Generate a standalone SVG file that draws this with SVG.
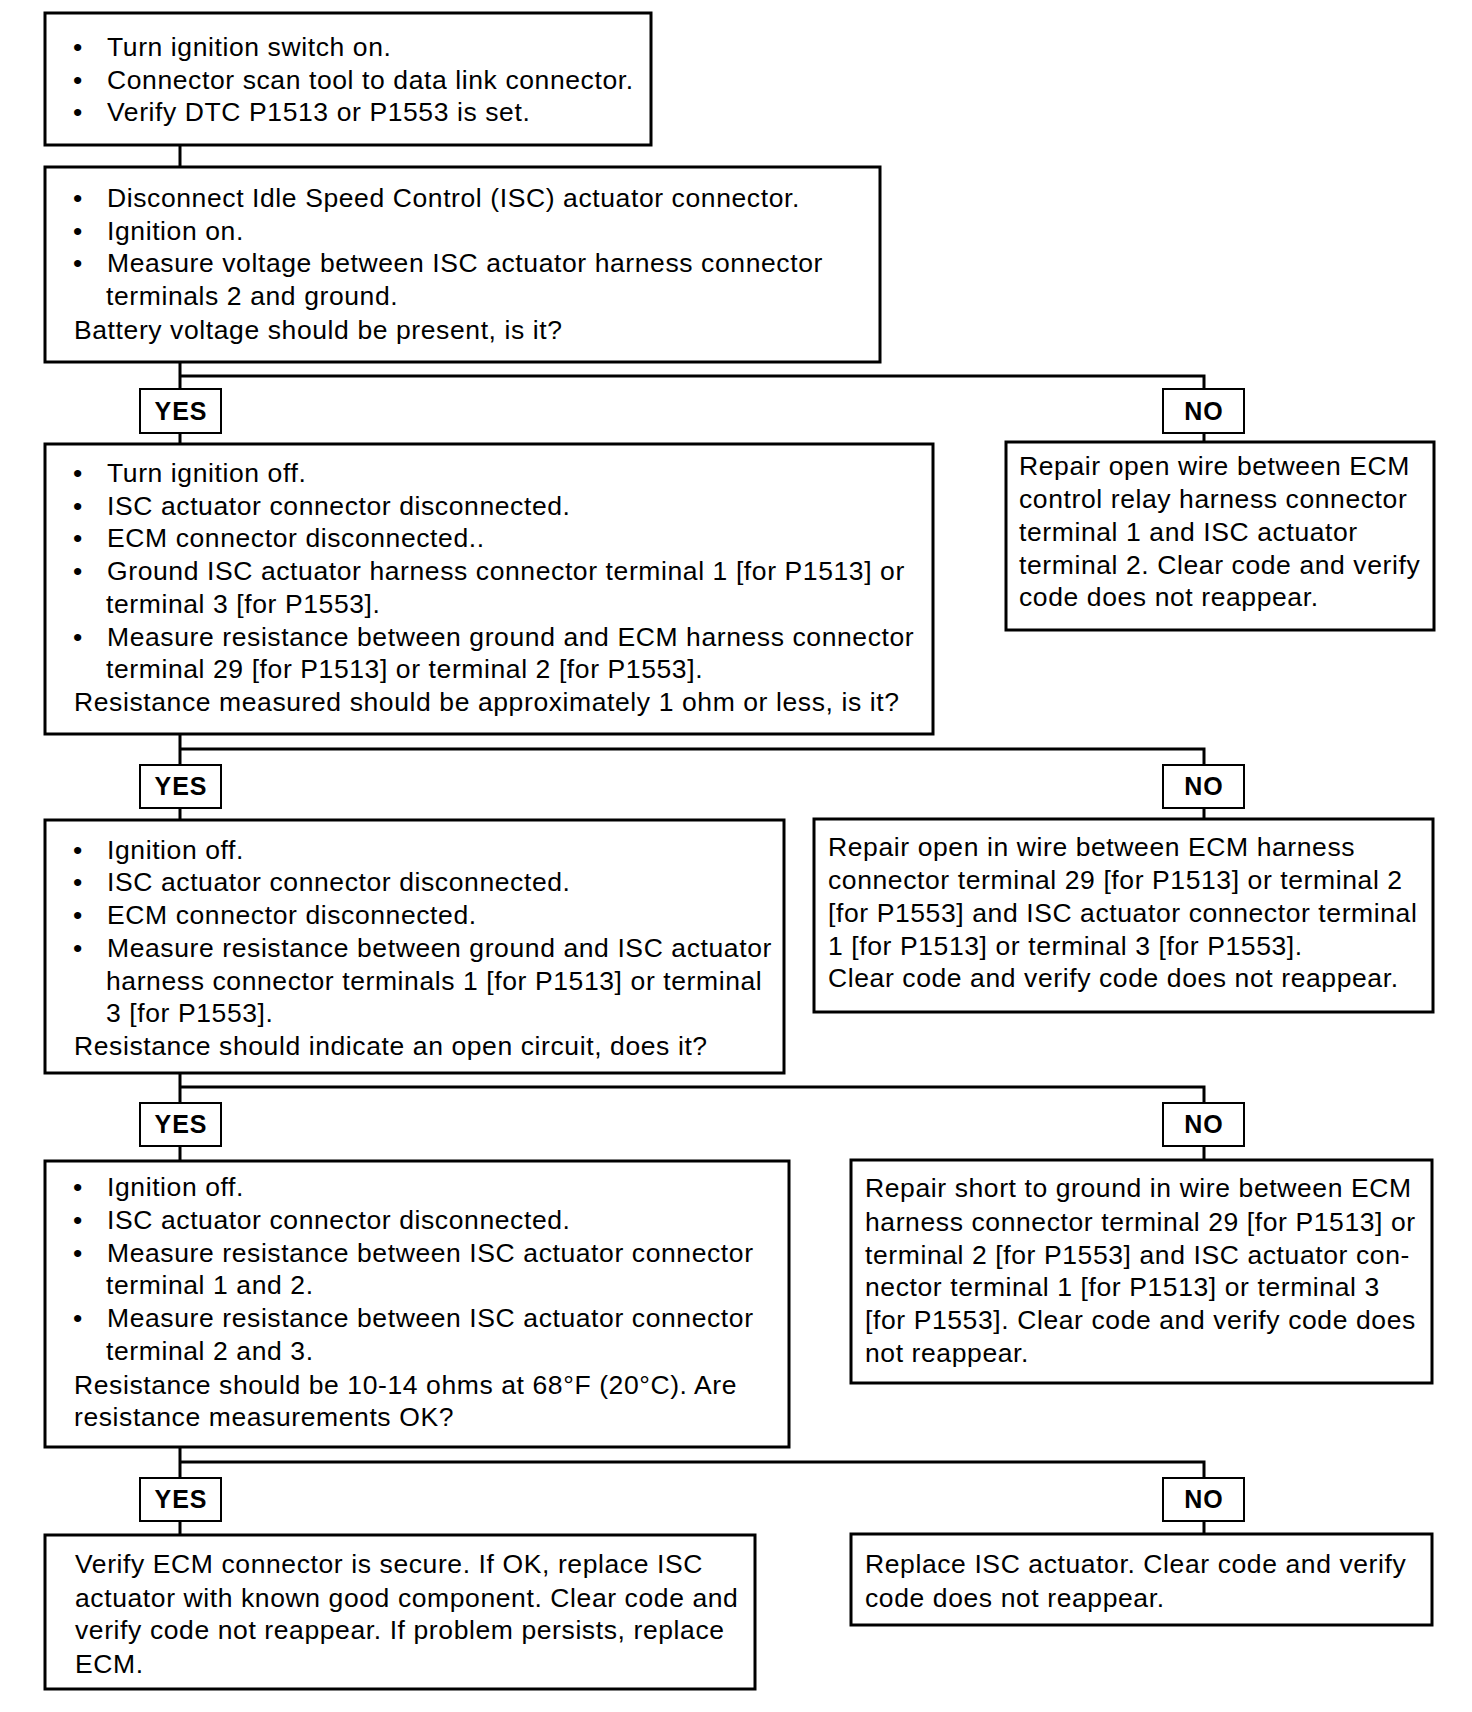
<svg xmlns="http://www.w3.org/2000/svg" width="1472" height="1712" viewBox="0 0 1472 1712">
<style>
.box{fill:#fff;stroke:#000;stroke-width:3}
.lbl{fill:#fff;stroke:#000;stroke-width:2}
.ln{fill:none;stroke:#000;stroke-width:3}
text{font-family:"Liberation Sans",Arial,sans-serif;font-size:26.5px;letter-spacing:0.6px;fill:#000}
.yn{font-weight:bold;font-size:25px;letter-spacing:1px;text-anchor:middle}
</style>
<rect width="1472" height="1712" fill="#fff"/>
<g id="connectors">
<path class="ln" d="M180 145V167"/>
<path class="ln" d="M180 362V444M180 376H1204V442"/>
<path class="ln" d="M180 734V820M180 749H1204V819"/>
<path class="ln" d="M180 1073V1161M180 1087H1204V1161"/>
<path class="ln" d="M180 1447V1535M180 1462H1204V1534"/>
</g>
<g id="n1">
<rect class="box" x="45" y="13" width="606" height="132"/>
<text x="73" y="56">•</text><text x="107" y="56">Turn ignition switch on.</text>
<text x="73" y="89">•</text><text x="107" y="89">Connector scan tool to data link connector.</text>
<text x="73" y="121">•</text><text x="107" y="121">Verify DTC P1513 or P1553 is set.</text>
</g>
<g id="n2">
<rect class="box" x="45" y="167" width="835" height="195"/>
<text x="73" y="207">•</text><text x="107" y="207">Disconnect Idle Speed Control (ISC) actuator connector.</text>
<text x="73" y="240">•</text><text x="107" y="240">Ignition on.</text>
<text x="73" y="272">•</text><text x="107" y="272">Measure voltage between ISC actuator harness connector</text>
<text x="106" y="305">terminals 2 and ground.</text>
<text x="74" y="339">Battery voltage should be present, is it?</text>
</g>
<g id="yes1"><rect class="lbl" x="140" y="389" width="81" height="44"/><text class="yn" x="181" y="420">YES</text></g>
<g id="no1"><rect class="lbl" x="1163" y="389" width="81" height="44"/><text class="yn" x="1204" y="420">NO</text></g>
<g id="n3">
<rect class="box" x="45" y="444" width="888" height="290"/>
<text x="73" y="482">•</text><text x="107" y="482">Turn ignition off.</text>
<text x="73" y="515">•</text><text x="107" y="515">ISC actuator connector disconnected.</text>
<text x="73" y="547">•</text><text x="107" y="547">ECM connector disconnected..</text>
<text x="73" y="580">•</text><text x="107" y="580">Ground ISC actuator harness connector terminal 1 [for P1513] or</text>
<text x="106" y="613">terminal 3 [for P1553].</text>
<text x="73" y="646">•</text><text x="107" y="646">Measure resistance between ground and ECM harness connector</text>
<text x="106" y="678">terminal 29 [for P1513] or terminal 2 [for P1553].</text>
<text x="74" y="711">Resistance measured should be approximately 1 ohm or less, is it?</text>
</g>
<g id="r1">
<rect class="box" x="1006" y="442" width="428" height="188"/>
<text x="1019" y="475">Repair open wire between ECM</text>
<text x="1019" y="508">control relay harness connector</text>
<text x="1019" y="541">terminal 1 and ISC actuator</text>
<text x="1019" y="574">terminal 2. Clear code and verify</text>
<text x="1019" y="606">code does not reappear.</text>
</g>
<g id="yes2"><rect class="lbl" x="140" y="765" width="81" height="43"/><text class="yn" x="181" y="795">YES</text></g>
<g id="no2"><rect class="lbl" x="1163" y="765" width="81" height="43"/><text class="yn" x="1204" y="795">NO</text></g>
<g id="n4">
<rect class="box" x="45" y="820" width="739" height="253"/>
<text x="73" y="859">•</text><text x="107" y="859">Ignition off.</text>
<text x="73" y="891">•</text><text x="107" y="891">ISC actuator connector disconnected.</text>
<text x="73" y="924">•</text><text x="107" y="924">ECM connector disconnected.</text>
<text x="73" y="957">•</text><text x="107" y="957">Measure resistance between ground and ISC actuator</text>
<text x="106" y="990">harness connector terminals 1 [for P1513] or terminal</text>
<text x="106" y="1022">3 [for P1553].</text>
<text x="74" y="1055">Resistance should indicate an open circuit, does it?</text>
</g>
<g id="r2">
<rect class="box" x="814" y="819" width="619" height="193"/>
<text x="828" y="856">Repair open in wire between ECM harness</text>
<text x="828" y="889">connector terminal 29 [for P1513] or terminal 2</text>
<text x="828" y="922">[for P1553] and ISC actuator connector terminal</text>
<text x="828" y="955">1 [for P1513] or terminal 3 [for P1553].</text>
<text x="828" y="987">Clear code and verify code does not reappear.</text>
</g>
<g id="yes3"><rect class="lbl" x="140" y="1103" width="81" height="43"/><text class="yn" x="181" y="1133">YES</text></g>
<g id="no3"><rect class="lbl" x="1163" y="1103" width="81" height="43"/><text class="yn" x="1204" y="1133">NO</text></g>
<g id="n5">
<rect class="box" x="45" y="1161" width="744" height="286"/>
<text x="73" y="1196">•</text><text x="107" y="1196">Ignition off.</text>
<text x="73" y="1229">•</text><text x="107" y="1229">ISC actuator connector disconnected.</text>
<text x="73" y="1262">•</text><text x="107" y="1262">Measure resistance between ISC actuator connector</text>
<text x="106" y="1294">terminal 1 and 2.</text>
<text x="73" y="1327">•</text><text x="107" y="1327">Measure resistance between ISC actuator connector</text>
<text x="106" y="1360">terminal 2 and 3.</text>
<text x="74" y="1394">Resistance should be 10-14 ohms at 68°F (20°C). Are</text>
<text x="74" y="1426">resistance measurements OK?</text>
</g>
<g id="r3">
<rect class="box" x="851" y="1160" width="581" height="223"/>
<text x="865" y="1197">Repair short to ground in wire between ECM</text>
<text x="865" y="1231">harness connector terminal 29 [for P1513] or</text>
<text x="865" y="1264">terminal 2 [for P1553] and ISC actuator con-</text>
<text x="865" y="1296">nector terminal 1 [for P1513] or terminal 3</text>
<text x="865" y="1329">[for P1553]. Clear code and verify code does</text>
<text x="865" y="1362">not reappear.</text>
</g>
<g id="yes4"><rect class="lbl" x="140" y="1478" width="81" height="43"/><text class="yn" x="181" y="1508">YES</text></g>
<g id="no4"><rect class="lbl" x="1163" y="1478" width="81" height="43"/><text class="yn" x="1204" y="1508">NO</text></g>
<g id="n6">
<rect class="box" x="45" y="1535" width="710" height="154"/>
<text x="75" y="1573">Verify ECM connector is secure. If OK, replace ISC</text>
<text x="75" y="1607">actuator with known good component. Clear code and</text>
<text x="75" y="1639">verify code not reappear. If problem persists, replace</text>
<text x="75" y="1673">ECM.</text>
</g>
<g id="r4">
<rect class="box" x="851" y="1534" width="581" height="91"/>
<text x="865" y="1573">Replace ISC actuator. Clear code and verify</text>
<text x="865" y="1607">code does not reappear.</text>
</g>
</svg>
